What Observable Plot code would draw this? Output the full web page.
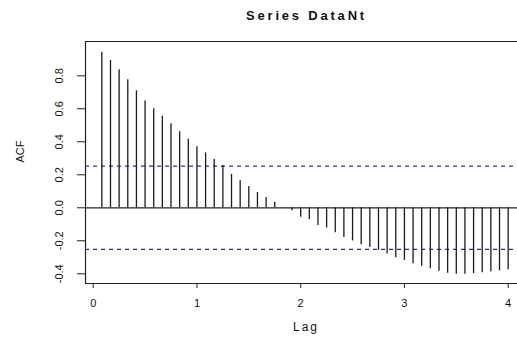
<!DOCTYPE html>
<html>
<head>
<meta charset="utf-8">
<script src="https://cdn.jsdelivr.net/npm/d3@7"></script>
<script src="https://cdn.jsdelivr.net/npm/@observablehq/plot@0.6"></script>
<style>
  html, body { margin: 0; padding: 0; background: #fff; }
  #chart svg { display: block; }
</style>
</head>
<body>
<div id="chart"></div>
<script>
const title = "Series DataNt";
const xLabel = "Lag";
const yLabel = "ACF";
// lags k/12, k = 1..48
const lagIndex = d3.range(1, 49);
const acfValues = [
  0.943, 0.893, 0.836, 0.776, 0.709, 0.648, 0.600, 0.555, 0.509, 0.461, 0.416, 0.370,
  0.333, 0.293, 0.256, 0.202, 0.166, 0.129, 0.092, 0.063, 0.034, -0.002, -0.018, -0.057,
  -0.071, -0.107, -0.123, -0.151, -0.180, -0.201, -0.224, -0.241, -0.258, -0.280, -0.303, -0.319,
  -0.339, -0.354, -0.370, -0.385, -0.397, -0.403, -0.403, -0.399, -0.394, -0.388, -0.382, -0.376
];
const ciBound = 0.252;
const xTicks = [0, 1, 2, 3, 4];
const yTicks = [-0.4, -0.2, 0.0, 0.2, 0.4, 0.6, 0.8];

const data = lagIndex.map((k, i) => ({lag: k / 12, acf: acfValues[i]}));

const xDomain = [-0.0742, 4.09];
const yDomain = [-0.459, 1.008];

const frameColor = "#222";
const chart = Plot.plot({
  width: 517,
  height: 338,
  marginTop: 41,
  marginBottom: 55,
  marginLeft: 85,
  marginRight: 0,
  style: {fontFamily: "'Liberation Sans', Arial, sans-serif", background: "#fff", color: "#111"},
  x: {domain: xDomain},
  y: {domain: yDomain},
  marks: [
    // box (top, bottom, left) – right side is cropped in the reference
    Plot.ruleY([yDomain[1], yDomain[0]], {stroke: frameColor, strokeWidth: 1.2}),
    Plot.ruleX([xDomain[0]], {stroke: frameColor, strokeWidth: 1.2}),
    // confidence bounds
    Plot.ruleY([ciBound, -ciBound], {stroke: "#2a2aa8", strokeWidth: 1.2, strokeDasharray: "4,4"}),
    // zero line
    Plot.ruleY([0], {stroke: frameColor, strokeWidth: 1.2}),
    // ACF spikes
    Plot.ruleX(data, {x: "lag", y1: 0, y2: "acf", stroke: "#1a1a1a", strokeWidth: 1.3}),
    Plot.axisX({ticks: xTicks, tickSize: 5, tickPadding: 11, fontSize: 11, label: null, tickFormat: d => String(d), stroke: frameColor}),
    Plot.axisY({ticks: yTicks, tickSize: 8, tickPadding: 15, tickRotate: -90, fontSize: 11, label: null, tickFormat: d => d.toFixed(1), stroke: frameColor}),
    Plot.text([title], {frameAnchor: "top", dx: 5, dy: -26, fontSize: 13, fontWeight: "bold", fill: "#111", text: d => d, lineAnchor: "middle"}),
    Plot.text([xLabel], {frameAnchor: "bottom", dx: 4.5, dy: 44, fontSize: 12, fill: "#111", text: d => d, lineAnchor: "middle"}),
    Plot.text([yLabel], {frameAnchor: "left", dx: -65, fontSize: 11, rotate: -90, fill: "#111", text: d => d, lineAnchor: "middle"})
  ]
});
document.getElementById("chart").appendChild(chart);
// letter spacing for the horizontal labels (reference text is horizontally spread)
d3.select(chart).selectAll("text").filter(function() { return this.textContent === title; }).style("letter-spacing", "2.8px");
d3.select(chart).selectAll("text").filter(function() { return this.textContent === xLabel; }).style("letter-spacing", "2px");
</script>
</body>
</html>
